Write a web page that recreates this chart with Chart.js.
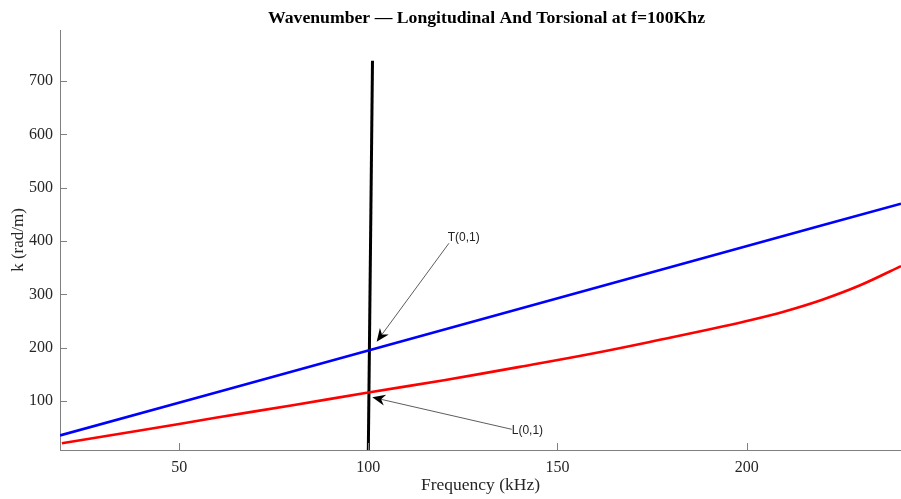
<!DOCTYPE html>
<html>
<head>
<meta charset="utf-8">
<script src="https://cdn.jsdelivr.net/npm/chart.js@4/dist/chart.umd.min.js"></script>
<style>
  html, body { margin: 0; padding: 0; background: #fff; }
  #wrap { width: 901px; height: 499px; position: relative; }
</style>
</head>
<body>
<div id="wrap"><canvas id="c" width="901" height="499"></canvas></div>
<script>
// Torsional T(0,1) mode: wavenumber vs frequency
const freqT = [18.5, 60, 100, 140, 180, 220, 240.8];
const kT    = [35.5, 116.6, 194.8, 273, 351, 429.4, 470];

// Longitudinal L(0,1) mode (dispersive)
const freqL = [19, 40, 60, 80, 100, 120, 140, 160, 180, 190, 200, 210, 220, 230, 240.8];
const kL    = [20.7, 45, 69, 92, 116, 139, 164, 190, 219, 234, 250, 268, 290, 317, 353];

// Marker line at the 100 kHz excitation
const freqMark = [100, 101.1];
const kMark    = [8.1, 738];

// Axis ticks
const xTicks = [50, 100, 150, 200];
const yTicks = [100, 200, 300, 400, 500, 600, 700];

// Mode labels with arrows: [label, text x, text y, tail x, tail y, tip x, tip y] in data units
const modeLabels = [
  ['T(0,1)', 121.0, 407, 121.3, 395.7, 102.2, 211.2],
  ['L(0,1)', 137.9, 43.7, 137.9, 46.9, 101.05, 106.9]
];

const TITLE = 'Wavenumber — Longitudinal And Torsional at f=100Khz';

const toPts = (xs, ys) => xs.map((x, i) => ({ x: x, y: ys[i] }));
const AXIS_GREY = '#808080';
const SERIF = '"Liberation Serif", "Times New Roman", serif';

const titlePlugin = {
  id: 'plotTitle',
  afterDraw(chart) {
    const { ctx, chartArea: a } = chart;
    ctx.save();
    ctx.fillStyle = '#000';
    ctx.font = 'bold 17.7px ' + SERIF;
    ctx.textAlign = 'center';
    ctx.textBaseline = 'middle';
    ctx.fillText(TITLE, (a.left + a.right) / 2 + 6, 18);
    ctx.restore();
  }
};

const axisPlugin = {
  id: 'inwardTicks',
  afterDraw(chart) {
    const { ctx, chartArea: a, scales } = chart;
    ctx.save();
    ctx.strokeStyle = AXIS_GREY;
    ctx.lineWidth = 1;
    ctx.beginPath();
    xTicks.forEach(v => {
      const px = Math.round(scales.x.getPixelForValue(v)) + 0.5;
      ctx.moveTo(px, a.bottom);
      ctx.lineTo(px, a.bottom - 7);
    });
    yTicks.forEach(v => {
      const py = Math.round(scales.y.getPixelForValue(v)) + 0.5;
      ctx.moveTo(a.left, py);
      ctx.lineTo(a.left + 7, py);
    });
    ctx.stroke();
    ctx.restore();
  }
};

const labelPlugin = {
  id: 'modeLabels',
  afterDatasetsDraw(chart) {
    const { ctx, scales } = chart;
    ctx.save();
    modeLabels.forEach(([txt, tx, ty, x0, y0, x1, y1]) => {
      const ax = scales.x.getPixelForValue(x0), ay = scales.y.getPixelForValue(y0);
      const bx = scales.x.getPixelForValue(x1), by = scales.y.getPixelForValue(y1);
      const ang = Math.atan2(by - ay, bx - ax);
      const L = 13, W = 5.5, back = 9;
      const c = Math.cos(ang), s = Math.sin(ang);
      // shaft
      ctx.strokeStyle = '#333';
      ctx.lineWidth = 0.8;
      ctx.beginPath();
      ctx.moveTo(ax, ay);
      ctx.lineTo(bx - c * back, by - s * back);
      ctx.stroke();
      // head
      const baseX = bx - c * L, baseY = by - s * L;
      ctx.fillStyle = '#000';
      ctx.beginPath();
      ctx.moveTo(bx, by);
      ctx.lineTo(baseX - s * W, baseY + c * W);
      ctx.lineTo(bx - c * back, by - s * back);
      ctx.lineTo(baseX + s * W, baseY - c * W);
      ctx.closePath();
      ctx.fill();
      // text
      ctx.fillStyle = '#222';
      ctx.font = '12px "Liberation Sans", Arial, sans-serif';
      ctx.textAlign = 'left';
      ctx.textBaseline = 'middle';
      ctx.fillText(txt, scales.x.getPixelForValue(tx), scales.y.getPixelForValue(ty));
    });
    ctx.restore();
  }
};

new Chart(document.getElementById('c'), {
  type: 'line',
  data: {
    datasets: [
      { label: 'T(0,1)', data: toPts(freqT, kT), borderColor: '#0000ff', borderWidth: 2.6, pointRadius: 0, tension: 0 },
      { label: 'L(0,1)', data: toPts(freqL, kL), borderColor: '#ff0000', borderWidth: 2.6, pointRadius: 0, tension: 0.4 },
      { label: 'f = 100 kHz', data: toPts(freqMark, kMark), borderColor: '#000000', borderWidth: 3, pointRadius: 0, tension: 0 }
    ]
  },
  options: {
    responsive: false,
    animation: false,
    layout: { padding: { left: 0, right: 0, top: 30, bottom: 0 } },
    plugins: {
      legend: { display: false },
      tooltip: { enabled: false },
      title: { display: false }
    },
    scales: {
      x: {
        type: 'linear',
        min: 18.5,
        max: 240.8,
        afterBuildTicks: s => { s.ticks = xTicks.map(v => ({ value: v })); },
        afterFit: s => { s.height = 49; },
        grid: { drawOnChartArea: false, drawTicks: false },
        border: { display: true, color: AXIS_GREY, width: 1 },
        ticks: { color: '#262626', font: { family: SERIF, size: 16 }, padding: 8, maxRotation: 0 },
        title: { display: true, text: 'Frequency (kHz)', color: '#262626', font: { family: SERIF, size: 17.5 }, padding: { top: 0, bottom: 3 } }
      },
      y: {
        type: 'linear',
        min: 8.1,
        max: 795.6,
        afterBuildTicks: s => { s.ticks = yTicks.map(v => ({ value: v })); },
        afterFit: s => { s.width = 60; },
        grid: { drawOnChartArea: false, drawTicks: false },
        border: { display: true, color: AXIS_GREY, width: 1 },
        ticks: { color: '#262626', font: { family: SERIF, size: 16 }, padding: 7 },
        title: { display: true, text: 'k (rad/m)', color: '#262626', font: { family: SERIF, size: 17 }, padding: { top: 8, bottom: 0 } }
      }
    }
  },
  plugins: [titlePlugin, axisPlugin, labelPlugin]
});
</script>
</body>
</html>
